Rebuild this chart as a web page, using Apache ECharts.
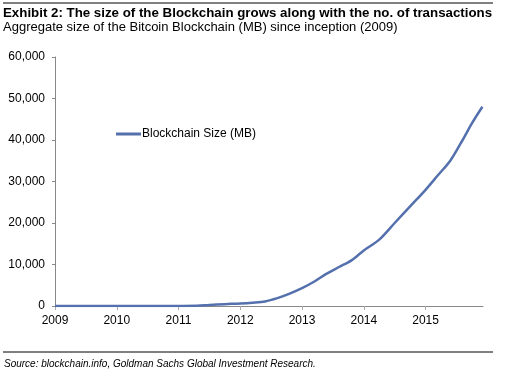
<!DOCTYPE html>
<html>
<head>
<meta charset="utf-8">
<script src="https://cdn.jsdelivr.net/npm/echarts@6/dist/echarts.min.js"></script>
<style>
  html, body { margin: 0; padding: 0; background: #fff; }
  #main { width: 509px; height: 375px; }
</style>
</head>
<body>
<div id="main"></div>
<script>
// fractional years and blockchain size (MB)
var years = [2009.0, 2009.5, 2010.0, 2010.5, 2011.0, 2011.3, 2011.5, 2011.75, 2012.0, 2012.2, 2012.4, 2012.6,
  2012.8, 2013.0, 2013.2, 2013.4, 2013.6, 2013.8, 2014.0, 2014.25, 2014.5, 2014.75, 2015.0, 2015.2,
  2015.4, 2015.6, 2015.75, 2015.92];
var sizes = [0, 0, 0, 10, 20, 50, 250, 450, 600, 800, 1100, 1900,
  3000, 4300, 5900, 7800, 9400, 11000, 13400, 16000, 20000, 24000, 28000, 31500,
  35000, 40000, 44000, 48000];
var yearTicks = [2009, 2010, 2011, 2012, 2013, 2014, 2015];

var font = '"Liberation Sans", Arial, sans-serif';
var chart = echarts.init(document.getElementById('main'));

var points = [];
years.forEach(function (y, i) {
  points.push([y, sizes[i]]);
});

var option = {
  animation: false,
  title: {
    text: 'Exhibit 2: The size of the Blockchain grows along with the no. of transactions',
    subtext: 'Aggregate size of the Bitcoin Blockchain (MB) since inception (2009)',
    left: 3,
    top: 7,
    padding: 0,
    itemGap: 1,
    textStyle: { fontFamily: font, fontSize: 13.3, fontWeight: 'bold', color: '#000' },
    subtextStyle: { fontFamily: font, fontSize: 13, color: '#000' }
  },
  graphic: [
    { type: 'line', shape: { x1: 3, y1: 3, x2: 493, y2: 3 }, style: { stroke: '#000', lineWidth: 1 } },
    { type: 'line', shape: { x1: 3, y1: 352, x2: 493, y2: 352 }, style: { stroke: '#000', lineWidth: 1 } },
    {
      type: 'text', left: 4, top: 359,
      style: {
        text: 'Source: blockchain.info, Goldman Sachs Global Investment Research.',
        font: 'italic 10px ' + font, fill: '#000'
      }
    }
  ],
  legend: {
    left: 111,
    top: 123,
    icon: 'rect',
    itemWidth: 25,
    itemHeight: 3,
    itemGap: 2,
    textStyle: { fontFamily: font, fontSize: 12, color: '#000', padding: [0, 0, 0, -4] },
    data: ['Blockchain Size (MB)']
  },
  grid: { left: 55, right: 26, top: 57, bottom: 69 },
  xAxis: {
    type: 'value',
    min: 2009,
    max: 2015.93,
    splitLine: { show: false },
    axisLine: { lineStyle: { color: '#888', width: 1 } },
    axisTick: { show: true, length: 4, lineStyle: { color: '#aaa' }, customValues: yearTicks },
    axisLabel: {
      customValues: yearTicks,
      formatter: function (v) { return String(v); },
      color: '#000', fontFamily: font, fontSize: 12, margin: 9
    }
  },
  yAxis: {
    type: 'value',
    min: 0,
    max: 60000,
    interval: 10000,
    splitLine: { show: false },
    axisLine: { show: true, lineStyle: { color: '#888', width: 1 } },
    axisTick: { show: true, length: 3, lineStyle: { color: '#888' } },
    axisLabel: { color: '#000', fontFamily: font, fontSize: 12, margin: 10 }
  },
  series: [{
    name: 'Blockchain Size (MB)',
    type: 'line',
    data: points,
    symbol: 'none',
    smooth: 0.3,
    lineStyle: { color: '#5470ad', width: 2.5 },
    itemStyle: { color: '#5470ad' }
  }]
};

chart.setOption(option);
</script>
</body>
</html>
